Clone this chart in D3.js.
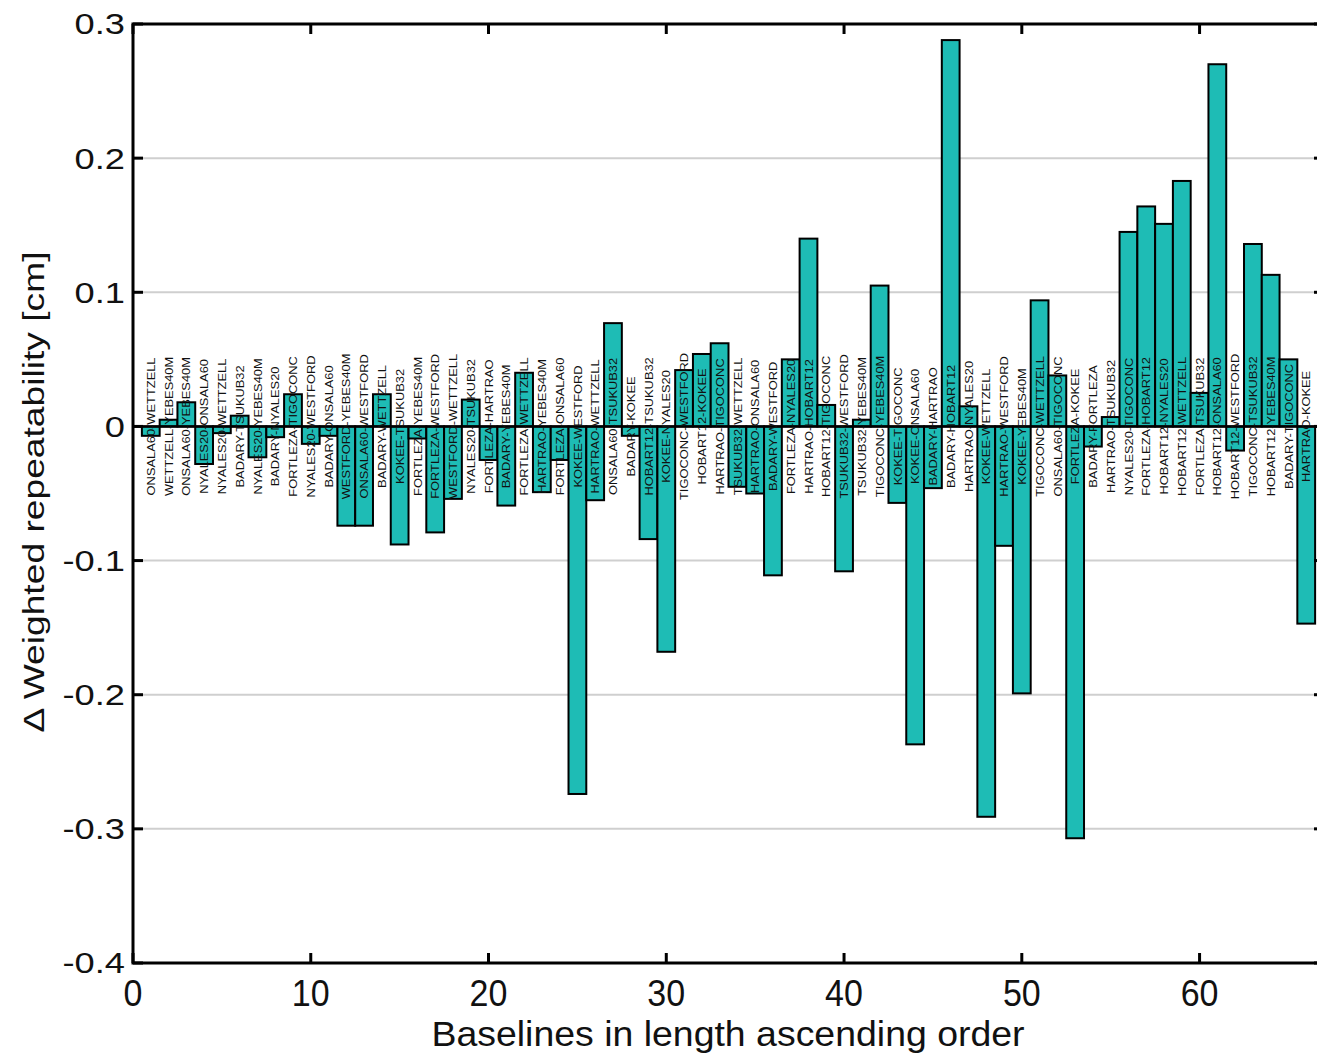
<!DOCTYPE html>
<html>
<head>
<meta charset="utf-8">
<script src="https://cdn.jsdelivr.net/npm/d3@7"></script>
<style>
  body { margin: 0; background: #fff; }
  svg { display: block; font-family: "Liberation Sans", Arial, sans-serif; }
</style>
</head>
<body>
<div id="chart"></div>
<script>
// baselines in length ascending order
var baselines = [
  "ONSALA60-WETTZELL", "WETTZELL-YEBES40M", "ONSALA60-YEBES40M", "NYALES20-ONSALA60", "NYALES20-WETTZELL",
  "BADARY-TSUKUB32", "NYALES20-YEBES40M", "BADARY-NYALES20", "FORTLEZA-TIGOCONC", "NYALES20-WESTFORD",
  "BADARY-ONSALA60", "WESTFORD-YEBES40M", "ONSALA60-WESTFORD", "BADARY-WETTZELL", "KOKEE-TSUKUB32",
  "FORTLEZA-YEBES40M", "FORTLEZA-WESTFORD", "WESTFORD-WETTZELL", "NYALES20-TSUKUB32", "FORTLEZA-HARTRAO",
  "BADARY-YEBES40M", "FORTLEZA-WETTZELL", "HARTRAO-YEBES40M", "FORTLEZA-ONSALA60", "KOKEE-WESTFORD",
  "HARTRAO-WETTZELL", "ONSALA60-TSUKUB32", "BADARY-KOKEE", "HOBART12-TSUKUB32", "KOKEE-NYALES20",
  "TIGOCONC-WESTFORD", "HOBART12-KOKEE", "HARTRAO-TIGOCONC", "TSUKUB32-WETTZELL", "HARTRAO-ONSALA60",
  "BADARY-WESTFORD", "FORTLEZA-NYALES20", "HARTRAO-HOBART12", "HOBART12-TIGOCONC", "TSUKUB32-WESTFORD",
  "TSUKUB32-YEBES40M", "TIGOCONC-YEBES40M", "KOKEE-TIGOCONC", "KOKEE-ONSALA60", "BADARY-HARTRAO",
  "BADARY-HOBART12", "HARTRAO-NYALES20", "KOKEE-WETTZELL", "HARTRAO-WESTFORD", "KOKEE-YEBES40M",
  "TIGOCONC-WETTZELL", "ONSALA60-TIGOCONC", "FORTLEZA-KOKEE", "BADARY-FORTLEZA", "HARTRAO-TSUKUB32",
  "NYALES20-TIGOCONC", "FORTLEZA-HOBART12", "HOBART12-NYALES20", "HOBART12-WETTZELL", "FORTLEZA-TSUKUB32",
  "HOBART12-ONSALA60", "HOBART12-WESTFORD", "TIGOCONC-TSUKUB32", "HOBART12-YEBES40M", "BADARY-TIGOCONC",
  "HARTRAO-KOKEE"
];

// change of weighted repeatability [cm]
var deltaRep = [
  -0.007, 0.005, 0.018, -0.028, -0.005,
  0.008, -0.023, -0.008, 0.024, -0.013,
  -0.007, -0.074, -0.074, 0.024, -0.088,
  -0.009, -0.079, -0.054, 0.020, -0.025,
  -0.059, 0.040, -0.049, -0.025, -0.274,
  -0.055, 0.077, -0.007, -0.084, -0.168,
  0.042, 0.054, 0.062, -0.045, -0.050,
  -0.111, 0.050, 0.140, 0.016, -0.108,
  0.005, 0.105, -0.057, -0.237, -0.046,
  0.288, 0.015, -0.291, -0.089, -0.199,
  0.094, 0.038, -0.307, -0.015, 0.007,
  0.145, 0.164, 0.151, 0.183, 0.025,
  0.270, -0.018, 0.136, 0.113, 0.050,
  -0.147
];

var yTicks = [-0.4, -0.3, -0.2, -0.1, 0, 0.1, 0.2, 0.3];
var xTicks = [0, 10, 20, 30, 40, 50, 60];

var width = 1317, height = 1056;
var margin = {top: 24, left: 133, bottom: 93};
var plotRight = 1324; // right border falls just outside the picture

var svg = d3.select("#chart")
    .append("svg")
    .attr("width", width)
    .attr("height", height);

svg.append("rect").attr("width", width).attr("height", height).attr("fill", "#fff");

var x = d3.scaleLinear().domain([0, 67]).range([margin.left, plotRight]);
var y = d3.scaleLinear().domain([-0.4, 0.3]).range([height - margin.bottom, margin.top]);

// grid lines
svg.append("g")
    .selectAll("line")
    .data(yTicks.filter(function(d){ return d != 0 && d != 0.3 && d != -0.4; }))
    .enter()
    .append("line")
    .attr("x1", x(0))
    .attr("x2", plotRight)
    .attr("y1", function(d){ return y(d); })
    .attr("y2", function(d){ return y(d); })
    .attr("stroke", "#cfcfcf")
    .attr("stroke-width", 2);

// bars
var idx = d3.range(1, deltaRep.length + 1);
svg.append("g")
    .selectAll("rect")
    .data(idx)
    .enter()
    .append("rect")
    .attr("x", function(i){ return x(i - 0.5); })
    .attr("width", x(1) - x(0))
    .attr("y", function(i){ return y(Math.max(0, deltaRep[i-1])); })
    .attr("height", function(i){ return Math.abs(y(deltaRep[i-1]) - y(0)); })
    .attr("fill", "#1ebcb5")
    .attr("stroke", "#000")
    .attr("stroke-width", 2);

// zero line
svg.append("line")
    .attr("x1", x(0)).attr("x2", plotRight)
    .attr("y1", y(0)).attr("y2", y(0))
    .attr("stroke", "#000").attr("stroke-width", 2.5);

// baseline names, vertical, centred on zero
svg.append("g")
    .selectAll("text")
    .data(idx)
    .enter()
    .append("text")
    .attr("transform", function(i){ return "translate(" + x(i) + "," + y(0) + ") rotate(-90) scale(1.12,1)"; })
    .attr("text-anchor", "middle")
    .attr("dy", "0.36em")
    .attr("font-size", "11.5px")
    .attr("fill", "#111")
    .text(function(i){ return baselines[i-1]; });

// axes box
var box = svg.append("g").attr("stroke", "#000").attr("stroke-width", 3).attr("fill", "none");
box.append("path")
    .attr("d", "M" + plotRight + "," + y(0.3) + "H" + x(0) + "V" + y(-0.4) + "H" + plotRight);

// ticks pointing inwards
var tickLen = 10;
box.selectAll(".yt")
    .data(yTicks)
    .enter()
    .append("line")
    .attr("x1", x(0)).attr("x2", x(0) + tickLen)
    .attr("y1", function(d){ return y(d); }).attr("y2", function(d){ return y(d); });
box.selectAll(".ytr")
    .data(yTicks)
    .enter()
    .append("line")
    .attr("x1", plotRight).attr("x2", plotRight - tickLen)
    .attr("y1", function(d){ return y(d); }).attr("y2", function(d){ return y(d); });
box.selectAll(".xb")
    .data(xTicks)
    .enter()
    .append("line")
    .attr("x1", function(d){ return x(d); }).attr("x2", function(d){ return x(d); })
    .attr("y1", y(-0.4)).attr("y2", y(-0.4) - tickLen);
box.selectAll(".xt")
    .data(xTicks)
    .enter()
    .append("line")
    .attr("x1", function(d){ return x(d); }).attr("x2", function(d){ return x(d); })
    .attr("y1", y(0.3)).attr("y2", y(0.3) + tickLen);

// tick labels (plain hyphen as minus, like the original)
svg.append("g")
    .selectAll("text")
    .data(yTicks)
    .enter()
    .append("text")
    .attr("transform", function(d){ return "translate(125," + y(d) + ") scale(1.25,1)"; })
    .attr("text-anchor", "end")
    .attr("dy", "0.36em")
    .attr("font-size", "29px")
    .attr("fill", "#111")
    .text(function(d){ return d == 0 ? "0" : d.toFixed(1); });

svg.append("g")
    .selectAll("text")
    .data(xTicks)
    .enter()
    .append("text")
    .attr("transform", function(d){ return "translate(" + x(d) + ",1006) scale(0.92,1)"; })
    .attr("text-anchor", "middle")
    .attr("font-size", "37px")
    .attr("fill", "#111")
    .text(function(d){ return d; });

// axis titles
svg.append("text")
    .attr("transform", "translate(728,1046) scale(1.07,1)")
    .attr("text-anchor", "middle")
    .attr("font-size", "35px")
    .attr("fill", "#111")
    .text("Baselines in length ascending order");

svg.append("text")
    .attr("transform", "translate(44,492) rotate(-90) scale(1.24,1)")
    .attr("text-anchor", "middle")
    .attr("font-size", "30px")
    .attr("fill", "#111")
    .text("\u0394 Weighted repeatability [cm]");
</script>
</body>
</html>
